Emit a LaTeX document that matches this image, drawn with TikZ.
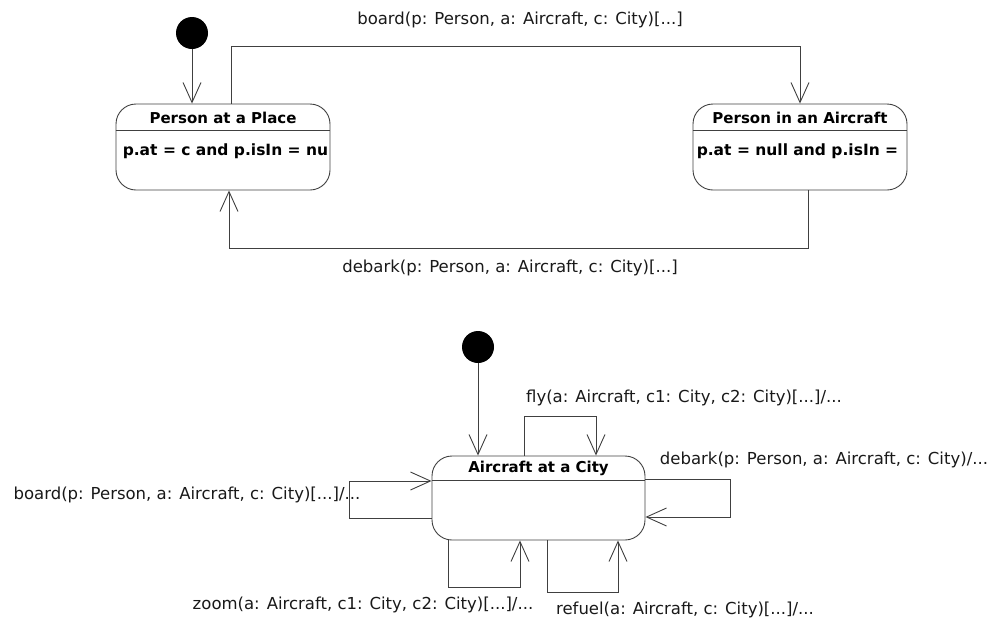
\documentclass[tikz,border=0pt]{standalone}
\usepackage{fontspec}
\setmainfont{DejaVu Sans}
\usetikzlibrary{arrows.meta,calc}

\begin{document}
\begin{tikzpicture}[x=1pt,y=-1pt,
  line/.style={draw=black!75,line width=0.9pt},
  statebox/.style={line,rounded corners=20pt,minimum width=214pt,minimum height=86pt,inner sep=0pt},
  title/.style={font=\fontsize{15}{18}\selectfont\bfseries,inner sep=0pt},
  body/.style={font=\fontsize{15.5}{18}\selectfont\bfseries,inner sep=0pt,anchor=west},
  lbl/.style={font=\fontsize{16.5}{19}\selectfont,text=black!90,inner sep=0pt},
  init/.style={circle,fill=black,minimum size=32pt,inner sep=0pt},
  trans/.style={line,-{Straight Barb[length=20pt,width=18pt,line width=0.9pt]}}]
  \useasboundingbox (0,0) rectangle (997,622);
  % person: states
  \node[init] (start1) at (192,33){};
  \node[statebox] (place) at (223,147){};
  \node[title] (place title) at ([yshift=-14pt]place.north){Person at a Place};
  \draw[line] ([yshift=-27pt]place.north west) -- ([yshift=-27pt]place.north east);
  \begin{scope}
    \clip ([yshift=-28pt]place.north west) rectangle ([xshift=-1pt]place.south east);
    \node[body] (place body) at ([xshift=7pt,yshift=-48pt]place.north west){p.at = c and p.isIn = nu};
  \end{scope}
  \node[statebox] (cabin) at (800,147){};
  \node[title] (cabin title) at ([yshift=-14pt]cabin.north){Person in an Aircraft};
  \draw[line] ([yshift=-27pt]cabin.north west) -- ([yshift=-27pt]cabin.north east);
  \begin{scope}
    \clip ([yshift=-28pt]cabin.north west) rectangle ([xshift=-1pt]cabin.south east);
    \node[body] (cabin body) at ([xshift=4pt,yshift=-48pt]cabin.north west){p.at = null and p.isIn =};
  \end{scope}
  % person: transitions
  \draw[trans] (start1) -- (place.north -| start1);
  \draw[trans] ([xshift=8pt]place.north) -- ++(0,-57) -| (cabin.north);
  \node[lbl] (board1) at (520,20){board(p: Person, a: Aircraft, c: City)[...]};
  \draw[trans] ([xshift=8pt]cabin.south) -- ++(0,58) -| ([xshift=6pt]place.south);
  \node[lbl] (debark1) at (510,268){debark(p: Person, a: Aircraft, c: City)[...]};
  % aircraft
  \node[init] (start2) at (478,347){};
  \node[statebox,minimum width=213pt,minimum height=84pt] (city) at (538.5,498){};
  \node[title] (city title) at ([yshift=-13pt]city.north){Aircraft at a City};
  \draw[line] ([yshift=-25pt]city.north west) -- ([yshift=-25pt]city.north east);
  \draw[trans] (start2) -- (city.north -| start2);
  \draw[trans] ([xshift=-14.5pt]city.north) -- ++(0,-39) -| ([xshift=57.5pt]city.north);
  \node[lbl] (fly) at (684,398){fly(a: Aircraft, c1: City, c2: City)[...]/...};
  \draw[trans] ([yshift=19pt]city.east) -- ++(85,0) |- ([yshift=-19pt]city.east);
  \node[lbl] (debark2) at (824,460){debark(p: Person, a: Aircraft, c: City)/...};
  \draw[trans] ([yshift=-20pt]city.west) -- ++(-82,0) |- ([yshift=17pt]city.west);
  \node[lbl] (board2) at (187,495){board(p: Person, a: Aircraft, c: City)[...]/...};
  \draw[trans] ([xshift=-90.5pt]city.south) -- ++(0,47) -| ([xshift=-18.5pt]city.south);
  \node[lbl] (zoom) at (363,605){zoom(a: Aircraft, c1: City, c2: City)[...]/...};
  \draw[trans] ([xshift=8.5pt]city.south) -- ++(0,52) -| ([xshift=79.5pt]city.south);
  \node[lbl] (refuel) at (685,610){refuel(a: Aircraft, c: City)[...]/...};
\end{tikzpicture}
\end{document}
